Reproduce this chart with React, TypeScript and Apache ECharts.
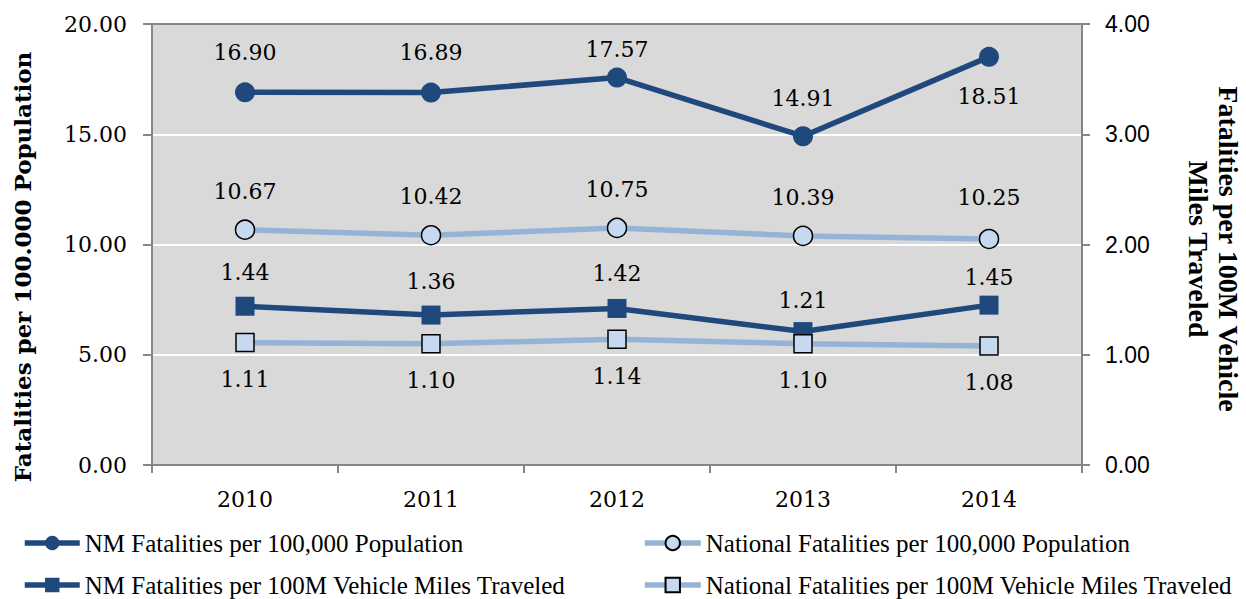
import React, { useEffect, useRef } from "react";
import * as echarts from "echarts";

// Years on the category axis
const years = ["2010", "2011", "2012", "2013", "2014"];

// Fatalities per 100,000 population (left axis)
const nmPerPopulation = [16.9, 16.89, 17.57, 14.91, 18.51];
const nationalPerPopulation = [10.67, 10.42, 10.75, 10.39, 10.25];

// Fatalities per 100M vehicle miles traveled (right axis)
const nmPerVmt = [1.44, 1.36, 1.42, 1.21, 1.45];
const nationalPerVmt = [1.11, 1.1, 1.14, 1.1, 1.08];

// Series names shown in the legend
const seriesNames = [
  "NM Fatalities per 100,000 Population",
  "National Fatalities per 100,000 Population",
  "NM Fatalities per 100M Vehicle Miles Traveled",
  "National Fatalities per 100M Vehicle Miles Traveled",
];

// Axis tick settings
const leftAxisMax = 20;
const leftAxisStep = 5;
const rightAxisMax = 4;
const rightAxisStep = 1;

const DARK = "#1f497d";
const LIGHT_LINE = "#95b3d7";
const LIGHT_FILL = "#c6d9f1";
const AXIS_GRAY = "#868686";
const SERIF = '"DejaVu Serif", serif';

const labelFont = {
  fontFamily: SERIF,
  fontSize: 22,
  lineHeight: 26,
  color: "#000",
};

// label placement per point: [position, distance]
const nmPopLabelPlacement: [string, number][] = [
  ["top", 17],
  ["top", 17],
  ["top", 5],
  ["top", 15],
  ["bottom", 17],
];
const natPopLabelGap = [15, 15, 15, 15, 18];
const nmVmtLabelGap = [11.5, 11.5, 12, 8.5, 5.5];
const natVmtLabelGap = [14, 14, 14, 14, 14];

// legend slots: [left, top, icon width] for each series name
const legendSlots: [number, number, number][] = [
  [22, 529, 55],
  [642, 529, 56],
  [22, 571, 55],
  [642, 571, 56],
];

const fmt = (v: number) => v.toFixed(2);

export default function App() {
  const ref = useRef<HTMLDivElement>(null);

  useEffect(() => {
    if (!ref.current) return;
    const chart = echarts.init(ref.current, null, { renderer: "svg" });

    const withLabels = (values: number[], placement: [string, number][]) =>
      values.map((v, i) => ({
        value: v,
        label: { position: placement[i][0], distance: placement[i][1] },
      }));

    const legendFor = (name: string, i: number) => ({
      left: legendSlots[i][0],
      top: legendSlots[i][1],
      padding: 0,
      itemWidth: legendSlots[i][2],
      itemHeight: 18,
      lineStyle: { width: 5.5 },
      textStyle: {
        fontFamily: '"Liberation Serif", serif',
        fontSize: 25,
        lineHeight: 28,
        color: "#000",
      },
      data: [name],
    });

    const option: any = {
      animation: false,
      backgroundColor: "#fff",
      grid: {
        left: 152,
        right: 164,
        top: 24,
        bottom: 134,
        show: true,
        backgroundColor: "#d9d9d9",
        borderColor: AXIS_GRAY,
        borderWidth: 2,
      },
      legend: seriesNames.map(legendFor),
      xAxis: {
        type: "category",
        data: years,
        boundaryGap: true,
        axisLine: { lineStyle: { color: AXIS_GRAY, width: 2 } },
        axisTick: {
          show: true,
          alignWithLabel: false,
          length: 8,
          lineStyle: { color: AXIS_GRAY, width: 2 },
        },
        axisLabel: {
          margin: 21,
          fontFamily: SERIF,
          fontSize: 22,
          lineHeight: 26,
          color: "#000",
        },
        splitLine: { show: false },
      },
      yAxis: [
        {
          type: "value",
          min: 0,
          max: leftAxisMax,
          interval: leftAxisStep,
          position: "left",
          axisLine: { show: true, lineStyle: { color: AXIS_GRAY, width: 2 } },
          axisTick: {
            show: true,
            length: 9,
            lineStyle: { color: AXIS_GRAY, width: 2 },
          },
          axisLabel: {
            margin: 25,
            formatter: (v: number) => fmt(v),
            fontFamily: SERIF,
            fontSize: 22,
            color: "#000",
          },
          splitLine: {
            show: true,
            showMinLine: false,
            showMaxLine: false,
            lineStyle: { color: "#ffffff", width: 2 },
          },
        },
        {
          type: "value",
          min: 0,
          max: rightAxisMax,
          interval: rightAxisStep,
          position: "right",
          axisLine: { show: true, lineStyle: { color: AXIS_GRAY, width: 2 } },
          axisTick: {
            show: true,
            length: 8,
            lineStyle: { color: AXIS_GRAY, width: 2 },
          },
          axisLabel: {
            margin: 23,
            formatter: (v: number) => fmt(v),
            fontFamily: '"Liberation Sans", sans-serif',
            fontSize: 23,
            color: "#000",
          },
          splitLine: { show: false },
        },
      ],
      series: [
        {
          name: seriesNames[0],
          type: "line",
          yAxisIndex: 0,
          data: withLabels(nmPerPopulation, nmPopLabelPlacement),
          symbol: "circle",
          symbolSize: 20,
          color: DARK,
          lineStyle: { color: DARK, width: 5.5 },
          itemStyle: { color: DARK, borderWidth: 0 },
          label: { show: true, formatter: (p: any) => fmt(p.value), ...labelFont },
        },
        {
          name: seriesNames[1],
          type: "line",
          yAxisIndex: 0,
          data: withLabels(
            nationalPerPopulation,
            natPopLabelGap.map((d) => ["top", d] as [string, number])
          ),
          symbol: "circle",
          symbolSize: 19,
          color: LIGHT_LINE,
          lineStyle: { color: LIGHT_LINE, width: 5.5 },
          itemStyle: { color: LIGHT_FILL, borderColor: "#000", borderWidth: 1.5 },
          label: { show: true, formatter: (p: any) => fmt(p.value), ...labelFont },
        },
        {
          name: seriesNames[2],
          type: "line",
          yAxisIndex: 1,
          data: withLabels(
            nmPerVmt,
            nmVmtLabelGap.map((d) => ["top", d] as [string, number])
          ),
          symbol: "rect",
          symbolSize: 19,
          color: DARK,
          lineStyle: { color: DARK, width: 5.5 },
          itemStyle: { color: DARK, borderWidth: 0 },
          label: { show: true, formatter: (p: any) => fmt(p.value), ...labelFont },
        },
        {
          name: seriesNames[3],
          type: "line",
          yAxisIndex: 1,
          data: withLabels(
            nationalPerVmt,
            natVmtLabelGap.map((d) => ["bottom", d] as [string, number])
          ),
          symbol: "rect",
          symbolSize: 18,
          color: LIGHT_LINE,
          lineStyle: { color: LIGHT_LINE, width: 5.5 },
          itemStyle: { color: LIGHT_FILL, borderColor: "#000", borderWidth: 1.5 },
          label: { show: true, formatter: (p: any) => fmt(p.value), ...labelFont },
        },
      ],
      graphic: [
        {
          type: "text",
          x: 22,
          y: 267,
          rotation: Math.PI / 2,
          style: {
            text: "Fatalities per 100.000 Population",
            font: 'bold 23px "DejaVu Serif", serif',
            fill: "#000",
            textAlign: "center",
            textVerticalAlign: "middle",
          },
        },
        {
          type: "text",
          x: 1213,
          y: 249,
          rotation: -Math.PI / 2,
          style: {
            text: "Fatalities per 100M Vehicle\nMiles Traveled",
            font: 'bold 28px "Liberation Serif", serif',
            lineHeight: 30,
            fill: "#000",
            textAlign: "center",
            textVerticalAlign: "middle",
          },
        },
      ],
    };

    chart.setOption(option);
    return () => chart.dispose();
  }, []);

  return (
    <div
      ref={ref}
      style={{ position: "fixed", left: 0, top: 0, width: 1246, height: 599 }}
    />
  );
}
